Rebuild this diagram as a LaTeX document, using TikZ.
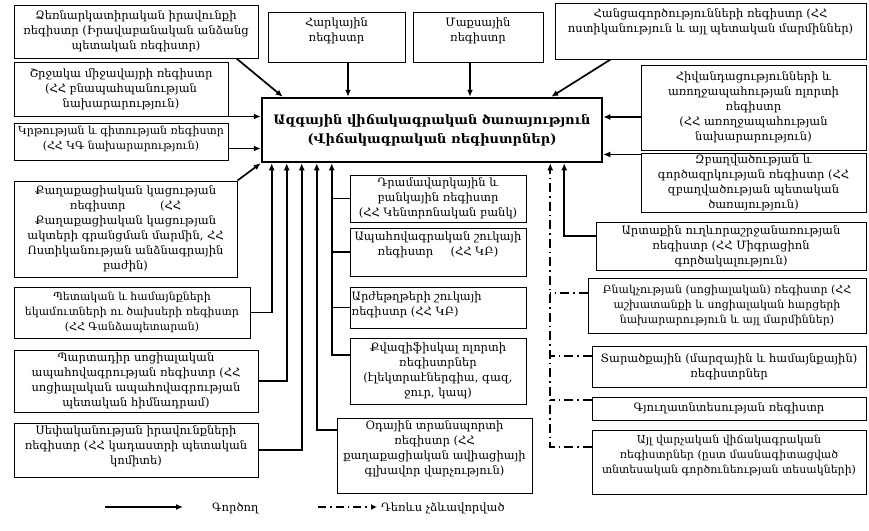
\documentclass[tikz,border=0pt]{standalone}
\usepackage{fontspec}
\setmainfont{DejaVu Serif}
\usetikzlibrary{arrows.meta}
\newcommand\bx[5]{\node[box, minimum width={(#4-#2)*1pt}, minimum height={(#5-#3)*1pt}] (#1) at ({(#2+#4)/2},{(#3+#5)/2}) {};}
\begin{document}
\begin{tikzpicture}[x=1pt,y=-1pt,
 box/.style={draw, line width=1pt, inner sep=0pt},
 txt/.style={align=center, font=\fontsize{11.5}{15}\selectfont, inner sep=0pt},
 sm/.style={font=\fontsize{11}{15}\selectfont},
 arr/.style={line width=1.7pt, -{Latex[length=7pt,width=6pt]}},
 ln/.style={line width=1.7pt},
 dd/.style={line width=1.7pt, dash pattern=on 9pt off 4pt on 1.5pt off 4pt}]
\useasboundingbox[fill=white] (0,0) rectangle (869,530);
% boxes
\bx{A}{14}{5}{258}{58}
\bx{B}{268}{12}{405}{62}
\bx{C}{413}{12}{543}{62}
\bx{D}{555}{3}{866}{59}
\node[box, line width=2.5pt, minimum width=340pt, minimum height=64pt] (Main) at (432,130) {};
\bx{E}{14}{62}{228}{116}
\bx{F}{14}{123}{228}{160}
\bx{G}{14}{181}{237}{277}
\bx{O}{14}{287}{250}{338}
\bx{P}{14}{350}{258}{412}
\bx{Q}{14}{423}{258}{477}
\bx{R}{350}{175}{526}{222}
\bx{S}{350}{228}{526}{276}
\bx{T}{350}{287}{526}{328}
\bx{U}{350}{338}{526}{404}
\bx{V}{337}{418}{532}{493}
\bx{H}{641}{65}{866}{150}
\bx{I}{641}{153}{866}{212}
\bx{J}{596}{222}{866}{270}
\bx{K}{588}{278}{866}{333}
\bx{L}{592}{346}{866}{387}
\bx{M}{592}{397}{866}{420}
\bx{N}{592}{430}{866}{494}
% texts
\node[txt] at (A) {Ձեռնարկատիրական իրավունքի\\ռեգիստր (Իրավաբանական անձանց\\պետական ռեգիստր)};
\node[txt, anchor=north] at ([yshift=-6pt]B.north) {Հարկային\\ռեգիստր};
\node[txt, anchor=north] at ([yshift=-6pt]C.north) {Մաքսային\\ռեգիստր};
\node[txt, anchor=north] at ([yshift=-6pt]D.north) {Հանցագործությունների ռեգիստր (ՀՀ\\ոստիկանություն և այլ պետական մարմիններ)};
\node[txt, font=\bfseries\fontsize{13}{19}\selectfont] at (Main) {Ազգային վիճակագրական ծառայություն\\(Վիճակագրական ռեգիստրներ)};
\node[txt] at (E) {Շրջակա միջավայրի ռեգիստր\\(ՀՀ բնապահպանության\\նախարարություն)};
\node[txt, sm, anchor=north] at ([yshift=-3pt]F.north) {Կրթության և գիտության ռեգիստր\\(ՀՀ ԿԳ նախարարություն)};
\node[txt] at (G) {Քաղաքացիական կացության\\ռեգիստր\hspace{3em}(ՀՀ\\Քաղաքացիական կացության\\ակտերի գրանցման մարմին, ՀՀ\\Ոստիկանության անձնագրային\\բաժին)};
\node[txt, sm] at (O) {Պետական և համայնքների\\եկամուտների ու ծախսերի ռեգիստր\\(ՀՀ Գանձապետարան)};
\node[txt] at (P) {Պարտադիր սոցիալական\\ապահովագրության ռեգիստր (ՀՀ\\սոցիալական ապահովագրության\\պետական հիմնադրամ)};
\node[txt, anchor=north] at ([yshift=-3pt]Q.north) {Սեփականության իրավունքների\\ռեգիստր (ՀՀ կադաստրի պետական\\կոմիտե)};
\node[txt] at (R) {Դրամավարկային և\\բանկային ռեգիստր\\(ՀՀ Կենտրոնական բանկ)};
\node[txt, anchor=north] at ([yshift=-4pt]S.north) {Ապահովագրական շուկայի\\ռեգիստր\hspace{1.5em}(ՀՀ ԿԲ)};
\node[txt, align=left, anchor=north west] at ([shift={(2pt,-5pt)}]T.north west) {Արժեթղթերի շուկայի\\ռեգիստր (ՀՀ ԿԲ)};
\node[txt] at (U) {Քվազիֆիսկալ ոլորտի\\ռեգիստրներ\\(էլեկտրաէներգիա, գազ,\\ջուր, կապ)};
\node[txt, anchor=north] at ([yshift=-3pt]V.north) {Օդային տրանսպորտի\\ռեգիստր (ՀՀ\\քաղաքացիական ավիացիայի\\գլխավոր վարչություն)};
\node[txt] at (H) {Հիվանդացությունների և\\առողջապահության ոլորտի\\ռեգիստր\\(ՀՀ առողջապահության\\նախարարություն)};
\node[txt] at (I) {Զբաղվածության և\\գործազրկության ռեգիստր (ՀՀ\\զբաղվածության պետական\\ծառայություն)};
\node[txt] at (J) {Արտաքին ուղևորաշրջանառության\\ռեգիստր (ՀՀ Միգրացիոն\\գործակալություն)};
\node[txt, sm] at (K) {Բնակչության (սոցիալական) ռեգիստր (ՀՀ\\աշխատանքի և սոցիալական հարցերի\\նախարարություն և այլ մարմիններ)};
\node[txt] at (L) {Տարածքային (մարզային և համայնքային)\\ռեգիստրներ};
\node[txt] at (M) {Գյուղատնտեսության ռեգիստր};
\node[txt, sm, anchor=north] at ([yshift=-5pt]N.north) {Այլ վարչական վիճակագրական\\ռեգիստրներ (ըստ մասնագիտացված\\տնտեսական գործունեության տեսակների)};
% coordinates
\coordinate (a1) at ([xshift=-22pt]A.south east);
\coordinate (a2) at ([xshift=22pt]Main.north west);
\coordinate (b1) at ([xshift=11.5pt]B.south);
\coordinate (c1) at ([xshift=-8pt]C.south);
\coordinate (d1) at ([xshift=-100pt]D.south);
\coordinate (d2) at ([xshift=-52pt]Main.north east);
\coordinate (f1) at ([yshift=12pt]F.south east);
\coordinate (xO) at ([xshift=11pt]Main.south west);
\coordinate (xP) at ([xshift=26pt]Main.south west);
\coordinate (xQ) at ([xshift=41pt]Main.south west);
\coordinate (xV) at ([xshift=56pt]Main.south west);
\coordinate (xT) at ([xshift=71pt]Main.south west);
\coordinate (u1) at ([yshift=16pt]U.west);
\coordinate (v1) at ([yshift=25.5pt]V.west);
\coordinate (h1) at ([yshift=-9.5pt]H.west);
\coordinate (i1) at ([yshift=-2pt]I.north west);
\coordinate (j1) at ([yshift=10pt]J.west);
\coordinate (xJ) at ([xshift=-39pt]Main.south east);
\coordinate (xD) at ([xshift=-53pt]Main.south east);
\coordinate (k1) at ([yshift=12.5pt]K.west);
\coordinate (l1) at ([yshift=10.5pt]L.west);
\coordinate (m1) at ([yshift=8.5pt]M.west);
\coordinate (n1) at ([yshift=15pt]N.west);
% connectors
\draw[arr] (a1) -- (a2);
\draw[arr] (b1) -- (b1 |- Main.north);
\draw[arr] (c1) -- (c1 |- Main.north);
\draw[arr] (d1) -- (d2);
\draw[arr] (E.south east) -- (E.south east -| Main.west);
\draw[arr] (f1) -- (f1 -| Main.west);
\draw[arr] (G.north east) -- (Main.south west);
\draw[arr] (O.east) -| (xO);
\draw[arr] (P.east) -| (xP);
\draw[arr] (Q.east) -| (xQ);
\draw[arr] (v1) -| (xV);
\draw[arr] (u1) -| (xT);
\draw[ln] (R.west) -- (R.west -| xT);
\draw[ln] (S.west) -- (S.west -| xT);
\draw[ln] (T.west) -- (T.west -| xT);
\draw[arr] (h1) -- (h1 -| Main.east);
\draw[arr] (i1) -- (i1 -| Main.east);
\draw[arr] (j1) -| (xJ);
\draw[dd, -{Latex[length=7pt,width=6pt]}] (n1) -| (xD);
\draw[dd] (k1) -- (k1 -| xD);
\draw[dd] (l1) -- (l1 -| xD);
\draw[dd] (m1) -- (m1 -| xD);
% legend
\coordinate (g1) at (105,507);
\coordinate (g2) at (183,507);
\coordinate (g3) at (318,507);
\coordinate (g4) at (377,507);
\draw[arr] (g1) -- (g2);
\node[txt, anchor=west] (gt1) at (212,508) {Գործող};
\draw[line width=1.7pt, dash pattern=on 8pt off 4pt on 1.5pt off 4pt, -{Latex[length=6pt,width=6pt]}] (g3) -- (g4);
\node[txt, anchor=west] (gt2) at (381,508) {Դեռևս չձևավորված};
\end{tikzpicture}
\end{document}
